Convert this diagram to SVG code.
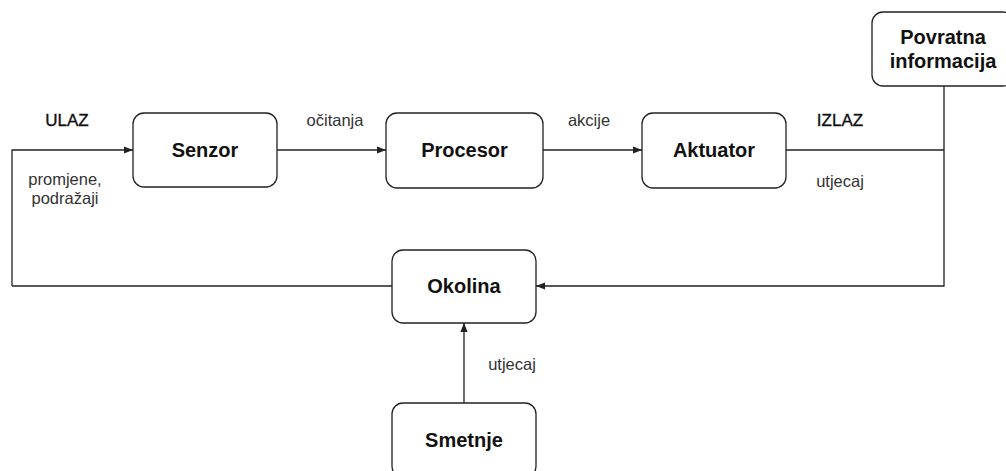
<svg xmlns="http://www.w3.org/2000/svg" width="1006" height="471" viewBox="0 0 1006 471">
<style>
.box{fill:#fff;stroke:#222;stroke-width:1.3}
.nt{font-family:"Liberation Sans",Arial,sans-serif;font-weight:bold;font-size:20px;fill:#111;text-anchor:middle}
.lb{font-family:"Liberation Sans",Arial,sans-serif;font-size:16.5px;fill:#333;text-anchor:middle}
.lk{font-family:"Liberation Sans",Arial,sans-serif;font-size:17px;fill:#111;stroke:#111;stroke-width:0.35;text-anchor:middle}
.ln{fill:none;stroke:#222;stroke-width:1.3}
</style>
<defs>
<marker id="ah" viewBox="0 0 10 10" refX="10" refY="5" markerWidth="9" markerHeight="9" markerUnits="userSpaceOnUse" orient="auto">
<path d="M0,1 L10,5 L0,9 Z" fill="#222"/>
</marker>
</defs>
<rect width="1006" height="471" fill="#fff"/>
<g id="connectors">
<path class="ln" d="M12,286 L12,150 L133,150" marker-end="url(#ah)"/>
<path class="ln" d="M277,150 L386,150" marker-end="url(#ah)"/>
<path class="ln" d="M543,150 L642,150" marker-end="url(#ah)"/>
<path class="ln" d="M786,150 L944,150"/>
<path class="ln" d="M944,86 L944,286 L536,286" marker-end="url(#ah)"/>
<path class="ln" d="M392,286 L12,286"/>
<path class="ln" d="M464,403 L464,323" marker-end="url(#ah)"/>
</g>
<g id="labels">
<text class="lk" x="67" y="126">ULAZ</text>
<text class="lb" x="65" y="185">promjene,</text>
<text class="lb" x="65" y="204">podražaji</text>
<text class="lb" x="335" y="126">očitanja</text>
<text class="lb" x="589" y="126">akcije</text>
<text class="lk" x="840" y="126">IZLAZ</text>
<text class="lb" x="840" y="187">utjecaj</text>
<text class="lb" x="512" y="370">utjecaj</text>
</g>
<g id="senzor"><rect class="box" x="133" y="113" width="144" height="74" rx="11"/><text class="nt" x="205" y="157">Senzor</text></g>
<g id="procesor"><rect class="box" x="386" y="113" width="157" height="75" rx="11"/><text class="nt" x="464.5" y="157">Procesor</text></g>
<g id="aktuator"><rect class="box" x="642" y="113" width="144" height="75" rx="11"/><text class="nt" x="714" y="157">Aktuator</text></g>
<g id="povratna"><rect class="box" x="872" y="12" width="142" height="74" rx="11"/><text class="nt" x="943" y="44">Povratna</text><text class="nt" x="943" y="68">informacija</text></g>
<g id="okolina"><rect class="box" x="392" y="250" width="144" height="73" rx="11"/><text class="nt" x="464" y="293">Okolina</text></g>
<g id="smetnje"><rect class="box" x="392" y="403" width="144" height="74" rx="11"/><text class="nt" x="464" y="447">Smetnje</text></g>
</svg>
